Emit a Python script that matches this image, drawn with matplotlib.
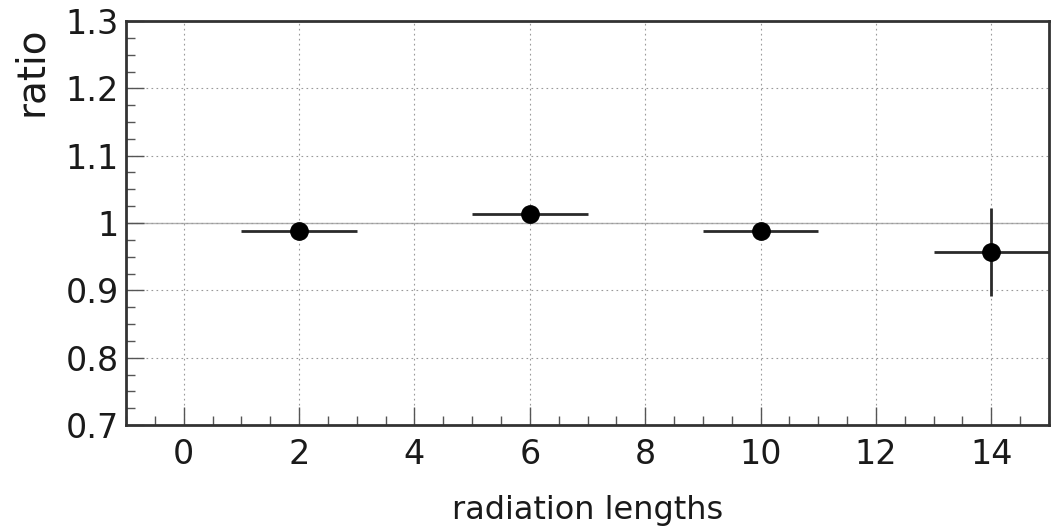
import numpy as np
import matplotlib.pyplot as plt
from matplotlib.ticker import MultipleLocator, FixedFormatter, FixedLocator

plt.rcParams['font.family'] = 'DejaVu Sans'

# data
x_vals = [2, 6, 10, 14]
ratio = [0.988, 1.014, 0.988, 0.957]
x_err = [1, 1, 1, 1]
y_err = [0.004, 0.004, 0.004, 0.066]
y_ticks = [0.7, 0.8, 0.9, 1.0, 1.1, 1.2, 1.3]
y_ticklabels = ["0.7", "0.8", "0.9", "1", "1.1", "1.2", "1.3"]
x_ticks = [0, 2, 4, 6, 8, 10, 12, 14]

fig = plt.figure(figsize=(10.52, 5.26), dpi=100)
ax = fig.add_axes([126/1052, 1-425/526, 923/1052, 404/526])

ax.set_xlim(-1, 15)
ax.set_ylim(0.7, 1.3)

#grid and reference line
ax.grid(True, which='major', linestyle=(0, (1.5, 3)), color='#9a9a9a', linewidth=0.8)
ax.axhline(1.0, color='#b0b0b0', linewidth=1.0, zorder=1)

ax.errorbar(x_vals, ratio, xerr=x_err, yerr=y_err, fmt='o', color='black',
            ecolor='#2a2a2a', elinewidth=2, capsize=0, markersize=12.5, zorder=3)

#ticks
ax.xaxis.set_major_locator(FixedLocator(x_ticks))
ax.xaxis.set_minor_locator(MultipleLocator(0.5))
ax.yaxis.set_major_locator(FixedLocator(y_ticks))
ax.yaxis.set_major_formatter(FixedFormatter(y_ticklabels))
ax.yaxis.set_minor_locator(MultipleLocator(0.025))
ax.tick_params(which='both', direction='in', top=False, right=False, color='#555555', width=1)
ax.tick_params(which='major', length=13, labelsize=24, labelcolor='#1a1a1a')
ax.tick_params(axis='x', which='major', pad=9)
ax.tick_params(axis='y', which='major', pad=5)
ax.tick_params(which='minor', length=6.5)

for s in ax.spines.values():
    s.set_linewidth(2)
    s.set_color('#333333')

ax.set_xlabel("radiation lengths", fontsize=23, labelpad=18, color='#1a1a1a')
fig.text(31/1052, 1-27/526, "ratio", rotation=90, fontsize=28, ha='center', va='top', color='#1a1a1a')

plt.savefig("out.png", dpi=100)
